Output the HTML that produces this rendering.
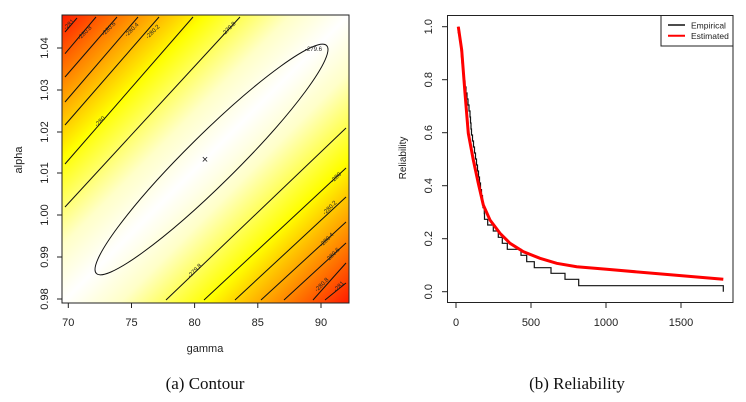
<!DOCTYPE html>
<html><head><meta charset="utf-8"><style>
html,body{margin:0;padding:0;background:#fff;}
svg{display:block;}
text{font-family:"Liberation Sans",sans-serif;fill:#222;}
.cap{font-family:"Liberation Serif",serif;font-size:17px;fill:#111;}
</style></head><body>
<svg width="746" height="402" viewBox="0 0 746 402" xmlns="http://www.w3.org/2000/svg">
<defs>
<linearGradient id="g" x1="0" y1="0" x2="1" y2="1">
<stop offset="0" stop-color="#ff1a00"/>
<stop offset="0.12" stop-color="#ff8a00"/>
<stop offset="0.25" stop-color="#ffff00"/>
<stop offset="0.40" stop-color="#ffffc8"/>
<stop offset="0.5" stop-color="#ffffff"/>
<stop offset="0.60" stop-color="#ffffc8"/>
<stop offset="0.75" stop-color="#ffff00"/>
<stop offset="0.88" stop-color="#ff8a00"/>
<stop offset="1" stop-color="#ff1a00"/>
</linearGradient>
<clipPath id="c1"><rect x="62" y="15" width="287" height="288"/></clipPath>
</defs>
<!-- Left plot -->
<rect x="62" y="15" width="287" height="288" fill="url(#g)"/>
<g clip-path="url(#c1)" stroke="#111" stroke-width="1" fill="none">
<path d="M65,32 L77,18"/>
<path d="M65,53.7 L96,17"/>
<path d="M65,77 L117,17"/>
<path d="M65,102 L138,17"/>
<path d="M65,125 L159,17"/>
<path d="M65,164 L193,17"/>
<path d="M65,207 L240,17"/>
<path d="M166,300 L346,128"/>
<path d="M204,300 L346,168"/>
<path d="M235,300 L346,197"/>
<path d="M261,300 L346,222"/>
<path d="M284,300 L346,243"/>
<path d="M313,300 L346,263"/>
<path d="M325,300 L346,283"/>
<ellipse cx="211.5" cy="159.5" rx="162" ry="25" transform="rotate(-44.7 211.5 159.5)"/>
</g>
<text x="205" y="163" font-size="11" text-anchor="middle" fill="#111">×</text>
<g font-size="6" fill="#111">
<text x="66" y="30" transform="rotate(-45 66 30)">-281</text>
<text x="80" y="40" transform="rotate(-45 80 40)">-280.8</text>
<text x="104" y="36" transform="rotate(-45 104 36)">-280.6</text>
<text x="127" y="37" transform="rotate(-45 127 37)">-280.4</text>
<text x="148" y="39" transform="rotate(-45 148 39)">-280.2</text>
<text x="97" y="127" transform="rotate(-45 97 127)">-280</text>
<text x="224" y="36" transform="rotate(-45 224 36)">-279.8</text>
<text x="305" y="51">-279.6</text>
<text x="190" y="278" transform="rotate(-45 190 278)">-279.8</text>
<text x="333" y="183" transform="rotate(-45 333 183)">-280</text>
<text x="325" y="215" transform="rotate(-45 325 215)">-280.2</text>
<text x="322" y="247" transform="rotate(-45 322 247)">-280.4</text>
<text x="328" y="262" transform="rotate(-45 328 262)">-280.6</text>
<text x="317" y="292" transform="rotate(-45 317 292)">-280.8</text>
<text x="336" y="292" transform="rotate(-45 336 292)">-281</text>
</g>
<rect x="62" y="15" width="287" height="288" fill="none" stroke="#222" stroke-width="1"/>
<g stroke="#222" stroke-width="1">
<line x1="57" y1="48" x2="62" y2="48"/><line x1="57" y1="90" x2="62" y2="90"/><line x1="57" y1="132" x2="62" y2="132"/><line x1="57" y1="173" x2="62" y2="173"/><line x1="57" y1="215" x2="62" y2="215"/><line x1="57" y1="257" x2="62" y2="257"/><line x1="57" y1="299" x2="62" y2="299"/>
<line x1="68.3" y1="303" x2="68.3" y2="308"/><line x1="131.5" y1="303" x2="131.5" y2="308"/><line x1="194.6" y1="303" x2="194.6" y2="308"/><line x1="257.8" y1="303" x2="257.8" y2="308"/><line x1="321" y1="303" x2="321" y2="308"/>
</g>
<g font-size="11" text-anchor="middle">
<text transform="translate(48,48) rotate(-90)">1.04</text>
<text transform="translate(48,90) rotate(-90)">1.03</text>
<text transform="translate(48,132) rotate(-90)">1.02</text>
<text transform="translate(48,173) rotate(-90)">1.01</text>
<text transform="translate(48,215) rotate(-90)">1.00</text>
<text transform="translate(48,257) rotate(-90)">0.99</text>
<text transform="translate(48,299) rotate(-90)">0.98</text>
<text x="68.3" y="326">70</text><text x="131.5" y="326">75</text><text x="194.6" y="326">80</text><text x="257.8" y="326">85</text><text x="321" y="326">90</text>
<text x="205" y="352">gamma</text>
<text transform="translate(22,160) rotate(-90)">alpha</text>
</g>
<!-- Right plot -->
<rect x="447.5" y="15.5" width="285.5" height="287" fill="none" stroke="#222" stroke-width="1"/>
<g stroke="#222" stroke-width="1">
<line x1="442" y1="26.7" x2="447.5" y2="26.7"/><line x1="442" y1="79.7" x2="447.5" y2="79.7"/><line x1="442" y1="132.7" x2="447.5" y2="132.7"/><line x1="442" y1="185.7" x2="447.5" y2="185.7"/><line x1="442" y1="238.7" x2="447.5" y2="238.7"/><line x1="442" y1="291.7" x2="447.5" y2="291.7"/>
<line x1="456" y1="302.5" x2="456" y2="308"/><line x1="531" y1="302.5" x2="531" y2="308"/><line x1="606" y1="302.5" x2="606" y2="308"/><line x1="681" y1="302.5" x2="681" y2="308"/>
</g>
<g font-size="11" text-anchor="middle">
<text transform="translate(432,26.7) rotate(-90)">1.0</text>
<text transform="translate(432,79.7) rotate(-90)">0.8</text>
<text transform="translate(432,132.7) rotate(-90)">0.6</text>
<text transform="translate(432,185.7) rotate(-90)">0.4</text>
<text transform="translate(432,238.7) rotate(-90)">0.2</text>
<text transform="translate(432,291.7) rotate(-90)">0.0</text>
<text x="456" y="326">0</text><text x="531" y="326">500</text><text x="606" y="326">1000</text><text x="681" y="326">1500</text>
<text transform="translate(406,158) rotate(-90)" font-size="10">Reliability</text>
</g>
<path fill="none" stroke="#111" stroke-width="1.2" d="M458.3,26.7 V32.7 H459.5 V38.8 H460.5 V44.8 H461 V50.8 H461.5 V56.9 H462 V62.9 H462.7 V68.9 H463.3 V75 H464 V81 H465 V87 H466 V93 H467 V99 H468 V105 H469 V111 H470 V117 H470.5 V123 H471 V129 H471.5 V135 H472.5 V141 H473.5 V147 H474.5 V153 H475.5 V159 H476.5 V165 H477.5 V171 H478.5 V177 H479.5 V183 H480.5 V189.6 H481.5 V195.6 H482.5 V201.7 H483 V207.7 H484.3 V213.7 H484.5 V219.3 H487.7 V225 H493.3 V231 H498.3 V237.3 H502.3 V243.3 H507.3 V249.3 H521 V255.3 H526.7 V261.7 H534.3 V267.7 H551 V273.3 H565 V279.3 H578.7 V285.7 H723.3 V291.7"/>
<path fill="none" stroke="#f00" stroke-width="3" d="M458.3,26.7 L461.7,50 L465,93.3 L468.3,133.3 L473.3,160 L478.3,183.3 L483.3,205 L490,220 L500,233.3 L510,243.3 L523.3,251.7 L540,258.3 L556.7,263.3 L576.7,266.7 L606.7,269.3 L673.3,275 L723.3,279.3"/>
<rect x="661" y="15.5" width="72" height="30.5" fill="#fff" stroke="#222" stroke-width="1"/>
<line x1="668" y1="25" x2="685" y2="25" stroke="#111" stroke-width="1.5"/>
<line x1="668" y1="35.7" x2="685" y2="35.7" stroke="#f00" stroke-width="2"/>
<text x="691" y="28.5" font-size="8.5">Empirical</text>
<text x="691" y="39" font-size="8.5">Estimated</text>
<!-- captions -->
<text class="cap" x="205" y="389" text-anchor="middle">(a) Contour</text>
<text class="cap" x="577" y="389" text-anchor="middle">(b) Reliability</text>
</svg>
</body></html>
